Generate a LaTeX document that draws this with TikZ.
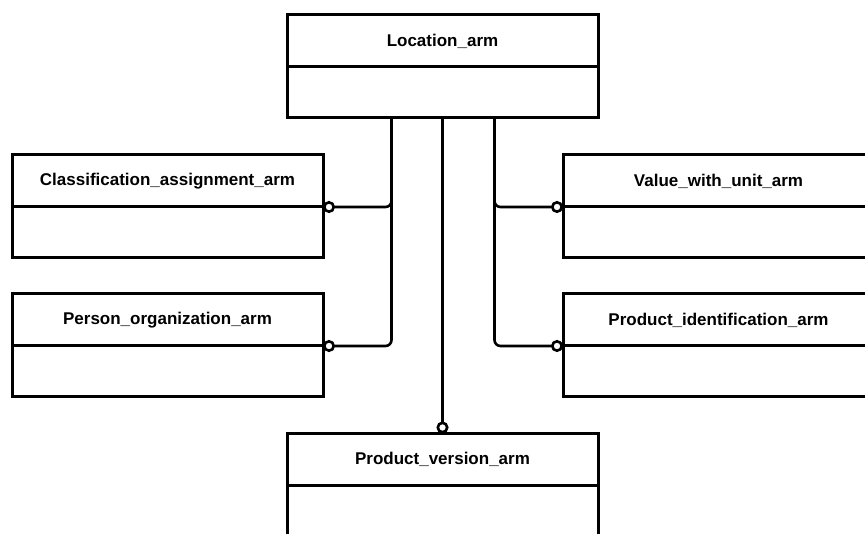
\documentclass[tikz,border=0pt]{standalone}
\usepackage{fontspec}
\setmainfont{Liberation Sans}
\usetikzlibrary{positioning,arrows.meta}

\begin{document}
\begin{tikzpicture}[x=1pt,y=-1pt,
  line width=3pt,
  title box/.style={rectangle,draw,minimum width=311pt,minimum height=52pt,
    inner sep=0pt,outer sep=0pt,font=\fontsize{17}{20}\selectfont\bfseries},
  body box/.style={rectangle,draw,minimum width=311pt,minimum height=51pt,
    inner sep=0pt,outer sep=0pt},
  link/.style={line width=2.6pt,rounded corners=6pt,-{Circle[open,length=12pt,width=12pt]}}]

  \clip (0,0) rectangle (865,534);

  \node[title box] (loc) at (442.5,41) {Location\_arm};
  \node[body box,below=0pt of loc] (loc body) {};
  \node[title box] (cls) at (167.5,181) {Classification\_assignment\_arm};
  \node[body box,below=0pt of cls] (cls body) {};
  \node[title box] (per) at (167.5,320) {Person\_organization\_arm};
  \node[body box,below=0pt of per] (per body) {};
  \node[title box] (val) at (718.5,181) {Value\_with\_unit\_arm};
  \node[body box,below=0pt of val] (val body) {};
  \node[title box] (pid) at (718.5,320) {Product\_identification\_arm};
  \node[body box,below=0pt of pid] (pid body) {};
  \node[title box] (ver) at (442.5,459.5) {Product\_version\_arm};
  \node[body box,below=0pt of ver] (ver body) {};

  \draw[link] ([xshift=-51pt]loc body.south) |- (cls.south east);
  \draw[link] ([xshift=-51pt]loc body.south) |- (per.south east);
  \draw[link] ([xshift=52pt]loc body.south) |- (val.south west);
  \draw[link] ([xshift=52pt]loc body.south) |- (pid.south west);
  \draw[link] (loc body.south) -- (ver.north);
\end{tikzpicture}
\end{document}
